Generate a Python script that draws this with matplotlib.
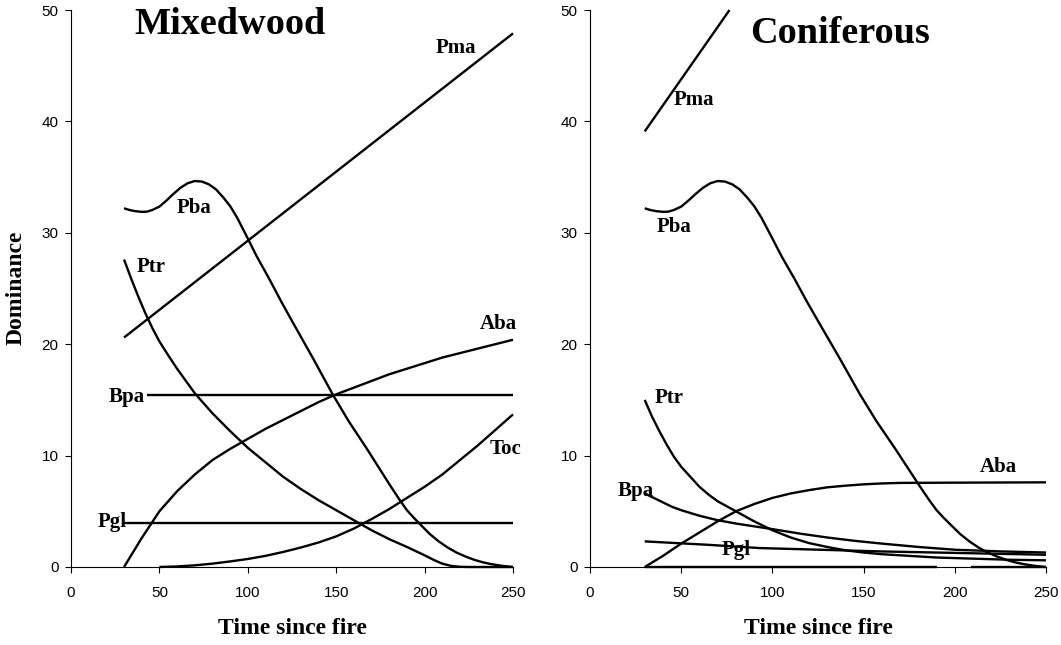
import numpy as np
import matplotlib
matplotlib.use("Agg")
import matplotlib.pyplot as plt

# ---------------- data: Mixedwood ----------------
mx_pma_x = [30, 250]
mx_pma_y = [20.6, 47.9]

mx_pba_x = [30, 33, 36, 40, 43, 46, 50, 54, 58, 62, 66, 70, 74, 78, 82, 86, 90, 94, 99, 105, 112, 119, 126, 137, 148, 157, 167, 177, 181, 186, 190, 194, 198, 203, 208, 213, 218, 223, 228, 233, 238, 244, 250]
mx_pba_y = [32.2, 32.05, 31.95, 31.88, 31.9, 32.05, 32.35, 32.9, 33.5, 34.05, 34.45, 34.65, 34.6, 34.35, 33.9, 33.2, 32.4, 31.35, 29.8, 27.9, 25.9, 23.8, 21.8, 18.7, 15.5, 13.1, 10.7, 8.2, 7.2, 6.0, 5.1, 4.4, 3.75, 2.95, 2.3, 1.75, 1.3, 0.95, 0.65, 0.42, 0.25, 0.1, 0.0]

mx_ptr_x = [30, 34, 38, 42, 46, 50, 55, 60, 65, 70, 80, 90, 100, 110, 120, 130, 140, 150, 160, 170, 180, 190, 200, 205, 210, 215, 220, 225, 250]
mx_ptr_y = [27.6, 25.9, 24.3, 22.8, 21.45, 20.25, 19.0, 17.8, 16.7, 15.6, 13.8, 12.2, 10.7, 9.4, 8.1, 7.0, 6.0, 5.1, 4.2, 3.3, 2.5, 1.8, 1.05, 0.65, 0.3, 0.1, 0.02, 0.0, 0.0]

mx_aba_x = [30, 35, 40, 45, 50, 55, 60, 70, 80, 90, 100, 110, 120, 130, 140, 150, 160, 170, 180, 190, 200, 210, 220, 230, 240, 250]
mx_aba_y = [0.0, 1.3, 2.6, 3.8, 5.0, 5.9, 6.8, 8.3, 9.6, 10.6, 11.5, 12.4, 13.2, 14.0, 14.8, 15.5, 16.1, 16.7, 17.3, 17.8, 18.3, 18.8, 19.2, 19.6, 20.0, 20.4]

mx_toc_x = [50, 60, 70, 80, 90, 100, 110, 120, 130, 140, 150, 160, 170, 180, 190, 200, 210, 220, 230, 240, 250]
mx_toc_y = [0.0, 0.05, 0.15, 0.3, 0.5, 0.72, 1.0, 1.35, 1.75, 2.2, 2.75, 3.45, 4.3, 5.2, 6.2, 7.2, 8.3, 9.6, 10.9, 12.3, 13.7]

mx_bpa_x = [43, 250]
mx_bpa_y = [15.45, 15.45]

mx_pgl_x = [30, 250]
mx_pgl_y = [3.97, 3.97]

# ---------------- data: Coniferous ----------------
cf_pma_x = [30, 76.5]
cf_pma_y = [39.1, 50.0]

cf_pba_x = mx_pba_x
cf_pba_y = mx_pba_y

cf_ptr_x = [30, 34, 38, 42, 46, 50, 55, 60, 65, 70, 80, 90, 100, 110, 120, 130, 140, 150, 160, 175, 190, 210, 230, 250]
cf_ptr_y = [15.0, 13.5, 12.2, 11.0, 9.9, 9.0, 8.1, 7.2, 6.5, 5.9, 5.0, 4.1, 3.3, 2.65, 2.15, 1.8, 1.5, 1.3, 1.15, 1.0, 0.85, 0.75, 0.65, 0.6]

cf_bpa_x = [30, 35, 40, 45, 50, 60, 70, 80, 90, 100, 115, 130, 145, 160, 180, 200, 225, 250]
cf_bpa_y = [6.6, 6.2, 5.8, 5.4, 5.1, 4.6, 4.2, 3.9, 3.65, 3.4, 3.0, 2.65, 2.35, 2.1, 1.8, 1.55, 1.4, 1.3]

cf_pgl_x = [30, 64, 93, 159, 250]
cf_pgl_y = [2.3, 2.0, 1.7, 1.4, 1.1]

cf_aba_x = [30, 40, 50, 60, 70, 80, 90, 100, 110, 120, 130, 140, 150, 160, 170, 200, 250]
cf_aba_y = [0.0, 1.0, 2.1, 3.1, 4.1, 5.0, 5.65, 6.2, 6.6, 6.9, 7.15, 7.3, 7.42, 7.5, 7.55, 7.57, 7.6]

cf_toc_x = [30, 190, 200, 209, 250]
cf_toc_y = [0.0, 0.0, np.nan, 0.0, 0.0]

# labels: (text, x, y)
mx_labels = [("Pma", 217.8, 46.1), ("Pba", 69.6, 31.8), ("Ptr", 45.6, 26.5),
             ("Aba", 241.5, 21.4), ("Bpa", 31.7, 14.8), ("Pgl", 23.2, 3.6),
             ("Toc", 245.5, 10.1)]
cf_labels = [("Pma", 57.0, 41.5), ("Pba", 45.9, 30.05), ("Ptr", 43.5, 14.75),
             ("Bpa", 25.2, 6.4), ("Pgl", 80.0, 1.08), ("Aba", 224.0, 8.55)]

xticks = [0, 50, 100, 150, 200, 250]
yticks = [0, 10, 20, 30, 40, 50]

serif = "Liberation Serif"
sans = "Liberation Sans"

fig = plt.figure(figsize=(10.61, 6.45), dpi=100)
W, H = 1061, 645
ax1 = fig.add_axes([71 / W, 1 - 567 / H, (513 - 71) / W, (567 - 10) / H])
ax2 = fig.add_axes([590 / W, 1 - 567 / H, (1046 - 590) / W, (567 - 10) / H])

lw = 1.7
for ax in (ax1, ax2):
    ax.set_xlim(0, 250)
    ax.set_ylim(0, 50)
    ax.set_xticks(xticks)
    ax.set_yticks(yticks)
    for s in ("top", "right"):
        ax.spines[s].set_visible(False)
    for s in ("left", "bottom"):
        ax.spines[s].set_linewidth(0.8)
        ax.spines[s].set_color("black")
    ax.tick_params(axis="both", direction="out", length=4, width=0.8, colors="black")
    ax.tick_params(axis="x", pad=10)
    ax.tick_params(axis="y", pad=5)
    for lab in ax.get_xticklabels() + ax.get_yticklabels():
        lab.set_fontfamily(sans)
        lab.set_fontsize(11)

series1 = [(mx_pma_x, mx_pma_y), (mx_pba_x, mx_pba_y), (mx_ptr_x, mx_ptr_y),
           (mx_aba_x, mx_aba_y), (mx_toc_x, mx_toc_y), (mx_bpa_x, mx_bpa_y),
           (mx_pgl_x, mx_pgl_y)]
for x, y in series1:
    ax1.plot(x, y, color="black", lw=lw, clip_on=False, solid_capstyle="butt",
             solid_joinstyle="round")

series2 = [(cf_pma_x, cf_pma_y), (cf_pba_x, cf_pba_y), (cf_ptr_x, cf_ptr_y),
           (cf_bpa_x, cf_bpa_y), (cf_pgl_x, cf_pgl_y), (cf_aba_x, cf_aba_y),
           (cf_toc_x, cf_toc_y)]
for x, y in series2:
    ax2.plot(x, y, color="black", lw=lw, clip_on=False, solid_capstyle="butt",
             solid_joinstyle="round")

for t, x, y in mx_labels:
    ax1.text(x, y, t, ha="center", va="baseline", fontfamily=serif,
             fontweight="bold", fontsize=15)
for t, x, y in cf_labels:
    ax2.text(x, y, t, ha="center", va="baseline", fontfamily=serif,
             fontweight="bold", fontsize=15)

ax1.text(89.9, 47.85, "Mixedwood", ha="center", va="baseline", fontfamily=serif,
         fontweight="bold", fontsize=27.5)
ax2.text(137.3, 47.0, "Coniferous", ha="center", va="baseline", fontfamily=serif,
         fontweight="bold", fontsize=27.5)

fig.text(292 / W, 1 - 629 / H, "Time since fire", ha="center", va="center",
         fontfamily=serif, fontweight="bold", fontsize=17)
fig.text(818 / W, 1 - 628 / H, "Time since fire", ha="center", va="center",
         fontfamily=serif, fontweight="bold", fontsize=17)
fig.text(16 / W, 1 - 288 / H, "Dominance", ha="center", va="center", rotation=90,
         fontfamily=serif, fontweight="bold", fontsize=17)

fig.savefig("out.png", dpi=100)
